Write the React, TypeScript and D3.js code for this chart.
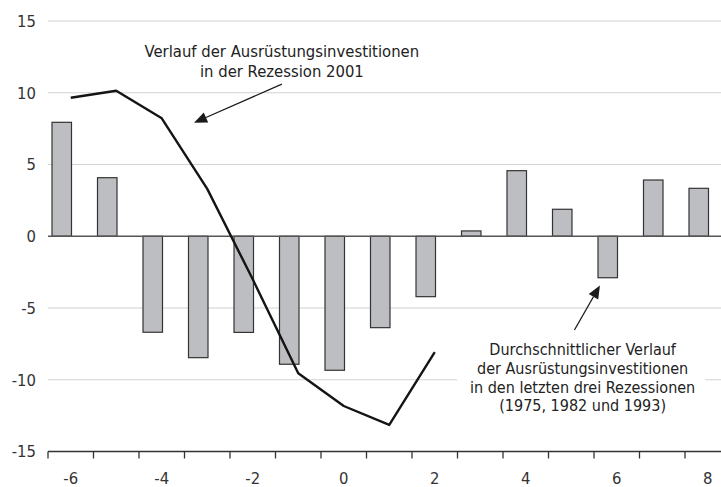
import React from 'react';
import * as d3 from 'd3';

const categories = [-6, -5, -4, -3, -2, -1, 0, 1, 2, 3, 4, 5, 6, 7, 8];
const barValues = [7.94, 4.08, -6.69, -8.46, -6.7, -8.92, -9.34, -6.37, -4.21, 0.37, 4.57, 1.88, -2.89, 3.92, 3.34];
const lineCategories = [-6, -5, -4, -3, -2, -1, 0, 1, 2];
const lineValues = [9.65, 10.14, 8.22, 3.3, -3.0, -9.55, -11.83, -13.15, -8.07];
const yTicks = [-15, -10, -5, 0, 5, 10, 15];
const xLabels = [-6, -4, -2, 0, 2, 4, 6, 8];

const note2001 = ['Verlauf der Ausrüstungsinvestitionen', 'in der Rezession 2001'];
const noteAvg = [
  'Durchschnittlicher Verlauf',
  'der Ausrüstungsinvestitionen',
  'in den letzten drei Rezessionen',
  '(1975, 1982 und 1993)',
];

const W = 721;
const H = 487;
const FONT = "'DejaVu Sans Condensed', 'DejaVu Sans', sans-serif";

const App: React.FC = () => {
  const x = d3.scaleBand<number>().domain(categories).range([48, 730.5]).padding(0);
  const bw = x.bandwidth();
  const y = d3.scaleLinear().domain([-15, 15]).range([451.5, 21]);
  // numeric position along the category axis (band centres)
  const xv = d3
    .scaleLinear()
    .domain([-6, 8])
    .range([(x(-6) ?? 0) + bw / 2, (x(8) ?? 0) + bw / 2]);

  const line = d3
    .line<number>()
    .x((_d, i) => xv(lineCategories[i]))
    .y((d) => y(d));

  const arrow = (x1: number, y1: number, x2: number, y2: number) => {
    const [ax, ay, bx, by] = [xv(x1), y(y1), xv(x2), y(y2)];
    const ang = Math.atan2(by - ay, bx - ax);
    const len = 13;
    const half = 5.5;
    const baseX = bx - len * Math.cos(ang);
    const baseY = by - len * Math.sin(ang);
    const px = -Math.sin(ang) * half;
    const py = Math.cos(ang) * half;
    return (
      <g>
        <line x1={ax} y1={ay} x2={baseX} y2={baseY} stroke="#1a1a1a" strokeWidth={1.3} />
        <polygon
          points={`${bx},${by} ${baseX + px},${baseY + py} ${baseX - px},${baseY - py}`}
          fill="#1a1a1a"
        />
      </g>
    );
  };

  return (
    <svg
      width={W}
      height={H}
      style={{ position: 'absolute', left: 0, top: 0, background: '#fff' }}
      fontFamily={FONT}
      fontStretch="condensed"
    >
      {/* grid */}
      {yTicks
        .filter((t) => t !== 0 && t !== -15)
        .map((t) => (
          <line key={t} x1={48} x2={W} y1={y(t)} y2={y(t)} stroke="#d2d2d2" strokeWidth={1.2} />
        ))}
      {yTicks.map((t) => (
        <text key={t} x={36} y={y(t)} dy="0.36em" textAnchor="end" fontSize={16.5} fill="#333">
          {t}
        </text>
      ))}

      {/* bars */}
      {categories.map((c, i) => {
        const v = barValues[i];
        return (
          <rect
            key={c}
            x={(x(c) ?? 0) + 4}
            width={19.5}
            y={Math.min(y(v), y(0))}
            height={Math.abs(y(v) - y(0))}
            fill="#bdbec2"
            stroke="#333"
            strokeWidth={1.2}
          />
        );
      })}

      <line x1={48} x2={W} y1={y(0)} y2={y(0)} stroke="#555" strokeWidth={1.5} />

      {/* line 2001 */}
      <path d={line(lineValues) ?? ''} fill="none" stroke="#141414" strokeWidth={2.4} strokeLinejoin="round" />

      {/* x axis */}
      <line x1={48} x2={W} y1={y(-15)} y2={y(-15)} stroke="#333" strokeWidth={1.5} />
      {categories.map((c) => (
        <line key={c} x1={x(c) ?? 0} x2={x(c) ?? 0} y1={y(-15)} y2={y(-15) + 7} stroke="#333" strokeWidth={1.3} />
      ))}
      {xLabels.map((c) => (
        <text key={c} x={(x(c) ?? 0) + bw / 2} y={484} textAnchor="middle" fontSize={16.5} fill="#333">
          {c}
        </text>
      ))}

      {/* annotations */}
      {note2001.map((s, i) => (
        <text key={s} x={xv(-1.36)} y={y(12.49) + i * 20} textAnchor="middle" fontSize={16.5} fill="#222">
          {s}
        </text>
      ))}
      {arrow(-1.36, 10.6, -3.29, 7.91)}

      <rect x={xv(2.49)} y={y(-7.6)} width={xv(7.94) - xv(2.49)} height={y(-12.5) - y(-7.6)} fill="#fff" />
      {noteAvg.map((s, i) => (
        <text key={s} x={xv(5.25)} y={y(-8.28) + i * 18.8} textAnchor="middle" fontSize={16} fill="#222">
          {s}
        </text>
      ))}
      {arrow(5.07, -6.53, 5.63, -3.43)}
    </svg>
  );
};

export default App;
